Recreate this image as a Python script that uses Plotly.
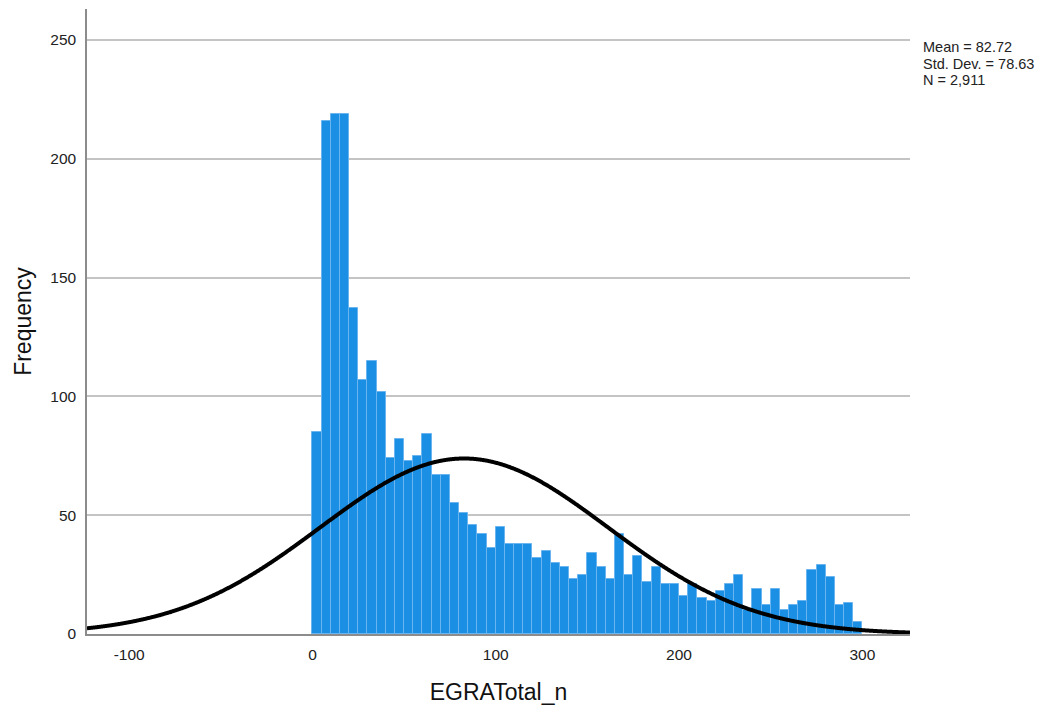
import numpy as np
import plotly.graph_objects as go

# Histogram of EGRATotal_n: bins of width 5 starting at 0
bin_start = 0
bin_width = 5
counts = [
    85, 216, 219, 219, 137, 107, 115, 102, 74, 82,
    73, 75, 84, 67, 67, 55, 51, 46, 42, 36,
    45, 38, 38, 38, 32, 35, 30, 28, 23, 25,
    34, 28, 23, 42, 25, 33, 22, 28, 21, 21,
    16, 21, 15, 14, 18, 21, 25, 10, 19, 12,
    19, 10, 12, 14, 27, 29, 24, 12, 13, 5,
]

# Summary statistics shown beside the chart
mean_val = 82.72
sd_val = 78.63
n_val = 2911

x_range = [-123, 326]
y_range = [0, 263]
x_ticks = [-100, 0, 100, 200, 300]
y_ticks = [0, 50, 100, 150, 200, 250]
x_tick_text = ["-100", "0", "100", "200", "300"]

centers = [bin_start + bin_width * (i + 0.5) for i in range(len(counts))]

# Fitted normal curve scaled to the histogram
cx = np.linspace(x_range[0], x_range[1], 900)
cy = n_val * bin_width / (sd_val * np.sqrt(2 * np.pi)) * np.exp(-0.5 * ((cx - mean_val) / sd_val) ** 2)

fig = go.Figure()
fig.add_trace(go.Bar(
    x=centers, y=counts, width=bin_width,
    marker=dict(color="#1a8fe3", line=dict(color="#6ab4ef", width=1)),
    hoverinfo="x+y",
))
fig.add_trace(go.Scatter(
    x=cx, y=cy, mode="lines",
    line=dict(color="black", width=4, simplify=False, shape="spline"),
    hoverinfo="skip",
))

L, R, T, B = 87, 134, 9, 75
W, H = 1044, 709
pw, ph = W - L - R, H - T - B

def px_to_paper(x, y):
    return (x - L) / pw, (H - B - y) / ph

stats_lines = [
    f"Mean = {mean_val:.2f}",
    f"Std. Dev. = {sd_val:.2f}",
    f"N = {n_val:,}",
]
for i, txt in enumerate(stats_lines):
    xp, yp = px_to_paper(921, 47 + i * 16.6)
    fig.add_annotation(
        x=xp, y=yp, xref="paper", yref="paper",
        text=txt, showarrow=False, xanchor="left", yanchor="middle",
        font=dict(family="Liberation Sans, Arial, sans-serif", size=14.5, color="#222"),
    )

fig.update_layout(
    width=W, height=H,
    margin=dict(l=L, r=R, t=T, b=B, pad=0),
    paper_bgcolor="white", plot_bgcolor="white",
    showlegend=False, bargap=0,
    font=dict(family="Liberation Sans, Arial, sans-serif", color="#222"),
    xaxis=dict(
        range=x_range, tickvals=x_ticks, ticktext=x_tick_text,
        showgrid=False, zeroline=False,
        showline=True, linecolor="#8c8c8c", linewidth=1.5,
        ticks="", tickfont=dict(size=15.5, color="#222"), ticklabelstandoff=6,
        title=dict(text="EGRATotal_n", font=dict(size=23, color="#111"), standoff=22),
    ),
    yaxis=dict(
        range=y_range, tickvals=y_ticks, showgrid=True, gridcolor="#c4c4c4", gridwidth=1.5,
        zeroline=False, showline=True, linecolor="#8c8c8c", linewidth=1.5,
        ticks="", tickfont=dict(size=15.5, color="#222"), ticklabelstandoff=6,
        title=dict(text="Frequency", font=dict(size=23, color="#111"), standoff=12),
    ),
)

fig.write_html("out.html")
